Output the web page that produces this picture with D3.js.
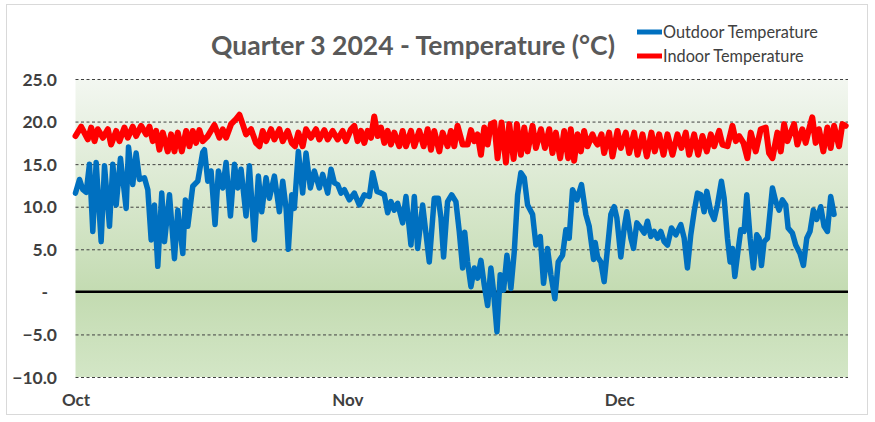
<!DOCTYPE html>
<html><head><meta charset="utf-8">
<script src="https://cdn.jsdelivr.net/npm/d3@7"></script>
<style>body{margin:0;background:#fff}svg{display:block}</style>
</head><body>
<svg id="chart" width="875" height="422"></svg>
<script>
// ---------- data ----------
const chartTitle = "Quarter 3 2024 - Temperature (°C)";
const seriesNames = ["Outdoor Temperature", "Indoor Temperature"];
const monthLabels = ["Oct", "Nov", "Dec"];
const monthTickDays = [0, 30, 60];          // day index of each month label
const yTickValues = [25, 20, 15, 10, 5, 0, -5, -10];
const dayExtent = [0, 85.25];

// [day index since start, °C]
const outdoorTemps = [
[0,11.6],[0.44,13.2],[0.81,12.0],[1.18,11.7],[1.54,15.0],[1.91,7.1],[2.28,15.2],[2.83,5.9],[3.20,14.8],[3.75,7.7],[4.12,15.0],[4.49,10.2],[4.96,15.7],[5.59,9.8],[5.85,17.0],[6.32,12.6],[6.69,16.3],[7.06,13.2],[7.61,13.4],[7.98,12.0],[8.35,6.1],[8.71,10.2],[9.08,3.0],[9.52,11.6],[9.82,5.9],[10.37,11.4],[10.92,3.9],[11.29,9.6],[11.84,4.5],[12.13,10.8],[12.39,7.7],[12.94,12.4],[13.49,13.0],[14.04,16.4],
[14.23,16.7],[14.60,13.0],[14.96,14.2],[15.40,7.9],[15.77,14.2],[16.25,12.2],[16.62,15.2],[17.10,8.9],[17.54,15.0],[17.90,12.2],[18.27,14.4],[18.82,8.9],[19.19,14.8],[19.74,6.1],[20.18,13.6],[20.55,9.4],[21.03,13.4],[21.40,11.0],[21.95,13.6],[22.50,9.4],[22.87,13.0],[23.24,9.8],[23.49,5.0],[23.86,11.4],[24.15,9.8],[24.59,16.5],[25.07,11.6],[25.44,16.3],[25.92,12.2],[26.36,14.2],[26.91,12.2],[27.28,13.8],[27.83,11.6],[28.20,14.4],
[28.57,12.8],[28.93,12.6],[29.30,11.6],[29.67,12.0],[30.22,10.8],[30.77,11.6],[31.32,10.2],[31.87,11.4],[32.43,11.2],[32.79,14.0],[33.27,11.8],[33.71,11.6],[34.08,11.4],[34.45,9.3],[34.81,10.6],[35.18,9.6],[35.55,10.4],[36.10,8.1],[36.47,11.2],[37.02,5.5],[37.39,11.2],[37.76,5.1],[38.31,10.2],[39.04,3.5],[39.59,11.0],[40.04,11.0],[40.33,8.7],[40.62,4.1],[41.06,10.6],[41.51,11.4],[41.98,10.6],[42.35,7.1],[42.72,2.8],
[42.95,7.0],[43.27,3.5],[43.64,0.6],[44.01,2.8],[44.37,1.6],[44.74,3.7],[45.11,0.8],[45.48,-1.6],[45.84,2.8],[46.14,0.0],[46.51,-4.7],[46.87,2.0],[47.24,0.2],[47.61,4.3],[48.05,0.4],[48.42,4.7],[48.79,11.4],[49.15,14.0],[49.52,13.4],[49.89,10.2],[50.44,9.1],[50.81,5.5],[51.29,6.5],[51.65,1.0],[52.09,5.1],[52.46,2.0],[52.90,-0.8],[53.27,3.5],[53.75,4.3],[54.12,7.3],[54.48,6.3],[54.85,12.0],[55.33,10.8],[55.84,12.6],[56.32,9.1],[56.69,7.7],[57.17,3.8],
[57.35,5.8],[57.61,4.1],[57.98,3.5],[58.34,1.2],[58.71,5.1],[59.08,9.1],[59.45,10.0],[59.74,8.7],[60.18,4.1],[60.55,7.5],[60.84,9.4],[61.29,6.3],[61.58,5.1],[61.95,8.1],[62.39,7.5],[62.76,6.9],[63.12,8.3],[63.49,6.5],[63.86,7.1],[64.23,6.3],[64.59,7.1],[64.96,5.9],[65.33,5.5],[65.77,7.5],[66.25,6.7],[66.80,7.9],[67.17,6.3],[67.53,2.8],[67.90,6.7],[68.27,9.4],[68.64,11.6],[69.01,11.4],[69.37,9.4],[69.67,11.8],[70.11,9.4],[70.48,8.5],[70.84,10.2],[71.28,13.0],
[71.58,11.0],[71.95,6.3],[72.24,3.5],[72.50,5.1],[72.76,1.8],[73.05,4.3],[73.42,7.3],[73.78,7.1],[74.08,11.4],[74.45,6.3],[74.81,2.8],[75.18,6.7],[75.44,6.3],[75.70,3.1],[75.99,5.9],[76.36,6.3],[76.91,12.2],[77.28,10.6],[77.64,9.6],[78.01,10.8],[78.38,10.2],[78.64,7.5],[79.11,6.9],[79.48,5.5],[79.96,4.5],[80.33,3.1],[80.70,6.3],[81.06,7.1],[81.43,9.6],[81.80,8.5],[82.24,10.0],[82.61,7.7],[82.98,7.1],[83.34,11.2],[83.71,9.1]
];

const indoorTemps = [
[0,18.3],[0.62,19.4],[1.36,17.9],[1.73,19.3],[2.10,17.7],[2.46,19.1],[3.02,18.1],[3.57,19.1],[3.93,17.3],[4.49,18.9],[4.85,17.7],[5.40,19.3],[5.77,18.1],[6.32,19.4],[6.69,18.3],[7.24,19.5],[7.79,18.5],[8.16,19.4],[8.53,17.7],[8.90,18.9],[9.26,16.7],[9.63,18.7],[10.18,16.5],[10.55,18.5],[10.92,16.5],[11.29,18.7],[11.73,16.5],[12.21,18.9],[12.57,17.1],[12.94,18.9],[13.31,17.5],[13.67,19.0],[14.04,17.7],
[14.60,18.3],[15.33,19.6],[15.88,18.1],[16.25,19.1],[16.62,18.1],[17.17,19.7],[17.72,20.3],[18.09,20.8],[18.45,19.7],[18.82,18.5],[19.37,19.1],[19.92,17.5],[20.29,17.1],[20.66,18.9],[21.03,17.7],[21.58,19.1],[21.95,17.9],[22.50,19.1],[22.87,17.7],[23.42,18.9],[23.86,17.5],[24.22,17.1],[24.59,18.7],[25.07,17.1],[25.44,19.1],[25.99,18.1],[26.54,19.1],[26.91,17.9],[27.46,19.0],[27.83,17.9],[28.38,18.9],
[28.93,17.9],[29.48,18.9],[29.85,17.7],[30.40,19.1],[30.77,19.5],[31.13,17.7],[31.50,18.9],[31.87,17.5],[32.24,18.9],[32.61,18.1],[32.97,20.6],[33.34,18.3],[33.71,19.3],[34.08,17.5],[34.45,18.9],[34.81,17.3],[35.18,18.7],[35.73,17.1],[36.10,18.9],[36.47,17.1],[37.02,18.9],[37.39,17.1],[37.94,18.9],[38.42,17.1],[38.86,19.1],[39.23,16.7],[39.59,18.9],[40.15,16.5],[40.51,18.7],[41.06,17.1],[41.43,18.9],[41.80,17.1],[42.16,19.5],[42.72,17.3],
[43.27,17.3],[43.64,19.0],[44.01,17.7],[44.37,18.5],[44.74,16.1],[45.11,19.3],[45.48,17.3],[45.84,19.7],[46.21,19.9],[46.58,15.7],[47.02,19.9],[47.50,15.2],[47.87,19.7],[48.35,15.6],[48.71,19.7],[49.15,16.1],[49.52,19.3],[49.89,16.5],[50.44,19.5],[50.81,16.9],[51.36,19.1],[51.80,16.9],[52.28,19.1],[52.64,16.3],[53.01,18.7],[53.49,15.7],[53.93,18.9],[54.37,15.7],[54.66,19.1],[55.03,15.4],[55.40,18.5],[55.77,16.5],[56.13,18.9],[56.50,17.1],[57.05,18.5],[57.35,17.7],
[57.61,17.3],[58.05,18.5],[58.34,16.3],[58.89,18.7],[59.26,15.9],[59.81,18.9],[60.18,16.9],[60.73,18.7],[61.10,16.3],[61.65,18.7],[62.02,16.1],[62.57,18.5],[63.05,15.9],[63.56,18.7],[63.93,16.5],[64.41,18.5],[64.89,16.1],[65.33,18.5],[65.88,16.1],[66.43,18.5],[66.87,16.9],[67.35,18.7],[67.72,16.1],[68.27,18.5],[68.71,16.1],[69.19,18.3],[69.67,16.5],[70.11,18.5],[70.48,17.1],[71.03,18.9],[71.39,17.3],
[71.95,17.1],[72.50,19.5],[72.87,17.7],[73.24,18.3],[73.71,17.5],[74.15,15.7],[74.52,18.7],[75.07,16.5],[75.62,19.1],[76.17,19.3],[76.54,16.3],[76.91,15.7],[77.46,18.7],[77.83,16.5],[78.20,19.7],[78.56,17.7],[78.93,18.7],[79.30,19.7],[79.66,17.3],[80.21,19.1],[80.58,17.5],[80.95,19.1],[81.31,20.5],[81.68,17.5],[82.05,19.1],[82.53,16.5],[82.97,19.3],[83.34,16.9],[83.71,19.5],[84.26,17.1],[84.63,19.7],[84.99,19.5]
];

const seriesColors = ["#0070C0", "#FF0000"];

// ---------- layout ----------
const svg = d3.select("#chart");
const plot = {left: 75.5, right: 848, top: 79, bottom: 377};
const x = d3.scaleLinear().domain(dayExtent).range([plot.left, plot.right]);
const y = d3.scaleLinear().domain([-10, 25]).range([plot.bottom, plot.top]);
const FONT = "Lato, 'Open Sans', sans-serif";

function fitWidth(sel, target) {
  const w = sel.node().getComputedTextLength();
  const fs = parseFloat(sel.attr("font-size"));
  sel.attr("font-size", (fs * target / w).toFixed(2));
}

// outer border
svg.append("rect").attr("x", 6.5).attr("y", 4.5).attr("width", 861).attr("height", 410)
  .attr("fill", "#fff").attr("stroke", "#d9d9d9").attr("stroke-width", 1);

// plot gradient
const defs = svg.append("defs");
const grad = defs.append("linearGradient").attr("id", "bg").attr("x1", 0).attr("y1", 0).attr("x2", 0).attr("y2", 1);
grad.append("stop").attr("offset", "0%").attr("stop-color", "#f3f7f1");
grad.append("stop").attr("offset", "72%").attr("stop-color", "#c3dbb1");
grad.append("stop").attr("offset", "100%").attr("stop-color", "#d3e6c6");
svg.append("rect").attr("x", plot.left).attr("y", plot.top)
  .attr("width", plot.right - plot.left).attr("height", plot.bottom - plot.top)
  .attr("fill", "url(#bg)");

// gridlines via axis
const yGrid = d3.axisLeft(y).tickValues(yTickValues.filter(v => v !== 0))
  .tickSize(-(plot.right - plot.left)).tickFormat("");
const gGrid = svg.append("g").attr("transform", `translate(${plot.left},0)`).call(yGrid);
gGrid.select(".domain").remove();
gGrid.selectAll("line").attr("stroke", "#404040").attr("stroke-width", 1).attr("stroke-dasharray", "3,2.5");

// y tick labels
const yAxis = d3.axisLeft(y).tickValues(yTickValues).tickSize(0).tickPadding(0)
  .tickFormat(v => v === 0 ? "-" : d3.format(".1f")(v));
const gY = svg.append("g").attr("transform", `translate(57,0)`).call(yAxis);
gY.select(".domain").remove();
gY.selectAll("text").attr("font-family", FONT).attr("font-weight", "bold").attr("font-size", 17.5)
  .attr("fill", "#404040").attr("dy", "0.35em")
  .attr("x", v => v === 0 ? -9 : 0);

// x tick labels
const xAxis = d3.axisBottom(x).tickValues(monthTickDays).tickSize(0).tickPadding(0)
  .tickFormat((d, i) => monthLabels[i]);
const gX = svg.append("g").attr("transform", `translate(0,393)`).call(xAxis);
gX.select(".domain").remove();
gX.selectAll("text").attr("font-family", FONT).attr("font-weight", "bold").attr("font-size", 17)
  .attr("fill", "#404040").attr("dy", "0.75em");

// zero line
svg.append("line").attr("x1", plot.left).attr("x2", plot.right).attr("y1", y(0)).attr("y2", y(0))
  .attr("stroke", "#000").attr("stroke-width", 2.5);

// series lines
const line = d3.line().x(d => x(d[0])).y(d => y(d[1]));
[outdoorTemps, indoorTemps].forEach((data, i) => {
  svg.append("path").datum(data).attr("d", line).attr("fill", "none")
    .attr("stroke", seriesColors[i]).attr("stroke-width", i === 0 ? 5.5 : 6)
    .attr("stroke-linejoin", "round").attr("stroke-linecap", "round");
});

// title
const t = svg.append("text").attr("x", 413).attr("y", 55).attr("text-anchor", "middle")
  .attr("font-family", FONT).attr("font-weight", "bold").attr("font-size", 26)
  .attr("fill", "#595959").text(chartTitle);
fitWidth(t, 404);

// legend
const legend = svg.append("g");
seriesNames.forEach((name, i) => {
  const ly = 32 + i * 24;
  legend.append("line").attr("x1", 637).attr("x2", 662).attr("y1", ly).attr("y2", ly)
    .attr("stroke", seriesColors[i]).attr("stroke-width", 5);
  const lt = legend.append("text").attr("x", 663).attr("y", ly).attr("dy", "0.35em")
    .attr("font-family", FONT).attr("font-size", 15).attr("fill", "#404040").text(name);
  if (i === 0) fitWidth(lt, 155);
  else lt.attr("font-size", legend.select("text").attr("font-size"));
});
</script>
</body></html>
